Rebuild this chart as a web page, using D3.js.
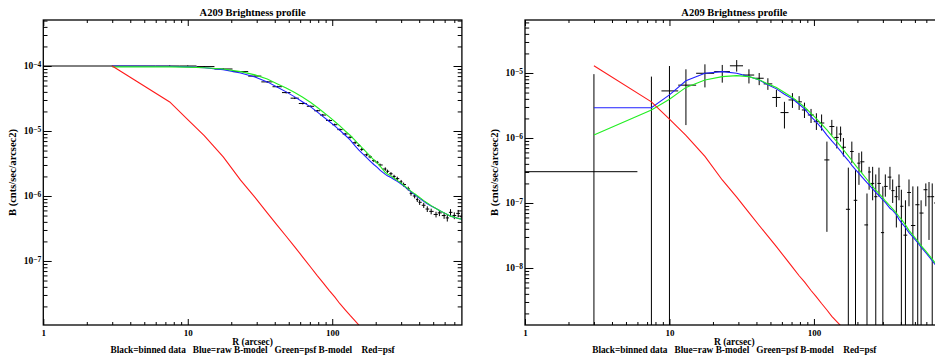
<!DOCTYPE html>
<html><head><meta charset="utf-8">
<script src="https://cdn.jsdelivr.net/npm/d3@7"></script>
<style>
body{margin:0;background:#fff}
svg text{font-family:"Liberation Serif","DejaVu Serif",serif;font-weight:bold;fill:#000}
</style>
</head><body>
<svg id="chart" width="935" height="356"></svg>
<script>
// ---------------- DATA ----------------
const titleText = "A209 Brightness profile";
const xTitle = "R (arcsec)";
const yTitle = "B (cnts/sec/arcsec2)";
const legendText = "Black=binned data   Blue=raw B-model   Green=psf B-model    Red=psf";
const xTickLabels = [1, 10, 100];

// bin centres and bin edges (arcsec)
const binR = [3, 7.5, 10, 13, 17.6, 23.2, 29.2, 35.5, 41.8, 48, 55, 62.5, 71, 79, 86, 95.5, 104, 113, 123, 133,
  144, 153, 160, 173, 183, 194, 205, 214, 233, 241, 255, 268, 282, 300, 312, 336, 351, 372, 388, 403,
  430, 455, 484, 523, 552, 595, 626, 659, 700, 745, 790];
const binEdges = [0, 6, 8.8, 11.5, 15.3, 20.4, 26.2, 32.3, 38.6, 44.9, 51.5, 58.7, 66.7, 75, 82.5, 90.7, 99.7, 108.5, 118, 128,
  138.5, 148.5, 156.5, 166.5, 178, 188.5, 199.5, 209.5, 223.5, 237, 248, 261.5, 275, 291, 306, 324, 343.5, 361.5, 380, 395.5,
  416.5, 442.5, 469.5, 503.5, 537.5, 573.5, 610.5, 642.5, 679.5, 722.5, 767.5, 812.5];

// left panel
const leftData = [1.0e-4, 1.0e-4, 1.0e-4, 9.8e-5, 9.0e-5, 8.2e-5, 7.0e-5, 5.7e-5, 4.8e-5, 3.9e-5, 3.2e-5, 2.65e-5, 2.4e-5, 2.05e-5, 1.76e-5, 1.45e-5, 1.25e-5, 1.05e-5, 9.0e-6, 8.0e-6,
  6.6e-6, 6.0e-6, 5.2e-6, 4.3e-6, 4.0e-6, 3.5e-6, 3.3e-6, 3.0e-6, 2.6e-6, 2.4e-6, 2.2e-6, 2.0e-6, 1.85e-6, 1.65e-6, 1.5e-6, 1.3e-6, 1.1e-6, 1.0e-6, 8.8e-7, 8.0e-7,
  7.2e-7, 6.3e-7, 5.8e-7, 5.2e-7, 5.5e-7, 5.0e-7, 4.6e-7, 5.6e-7, 5.0e-7, 5.4e-7, 4.8e-7];
const leftErrFrac = [0.01, 0.02, 0.02, 0.02, 0.02, 0.02, 0.02, 0.03, 0.03, 0.03, 0.03, 0.03, 0.03, 0.03, 0.04, 0.04, 0.04, 0.04, 0.04, 0.04,
  0.05, 0.05, 0.05, 0.05, 0.05, 0.05, 0.05, 0.05, 0.06, 0.06, 0.06, 0.06, 0.07, 0.07, 0.07, 0.07, 0.08, 0.08, 0.08, 0.09,
  0.09, 0.10, 0.10, 0.10, 0.11, 0.11, 0.12, 0.12, 0.12, 0.13, 0.13];
const leftRawModel = [1.0e-4, 9.9e-5, 9.7e-5, 9.4e-5, 8.8e-5, 7.8e-5, 6.8e-5, 5.7e-5, 4.7e-5, 4.0e-5, 3.35e-5, 2.8e-5, 2.35e-5, 1.95e-5, 1.68e-5, 1.4e-5, 1.2e-5, 1.02e-5, 8.6e-6, 7.3e-6,
  5.9e-6, 5.1e-6, 4.6e-6, 3.9e-6, 3.45e-6, 3.05e-6, 2.75e-6, 2.5e-6, 2.15e-6, 2.05e-6, 1.92e-6, 1.8e-6, 1.68e-6, 1.53e-6, 1.43e-6, 1.26e-6, 1.16e-6, 1.05e-6, 9.8e-7, 9.2e-7,
  8.3e-7, 7.6e-7, 7.0e-7, 6.4e-7, 6.0e-7, 5.5e-7, 5.2e-7, 4.9e-7, 4.7e-7, 4.5e-7, 4.4e-7];
const leftPsfModel = [9.7e-5, 9.7e-5, 9.6e-5, 9.4e-5, 9.0e-5, 8.2e-5, 7.3e-5, 6.3e-5, 5.3e-5, 4.6e-5, 3.9e-5, 3.3e-5, 2.75e-5, 2.3e-5, 1.98e-5, 1.65e-5, 1.4e-5, 1.2e-5, 1.0e-5, 8.6e-6,
  7.2e-6, 6.2e-6, 5.6e-6, 4.7e-6, 4.1e-6, 3.6e-6, 3.2e-6, 2.9e-6, 2.3e-6, 2.18e-6, 2.02e-6, 1.88e-6, 1.74e-6, 1.58e-6, 1.47e-6, 1.29e-6, 1.19e-6, 1.08e-6, 1.01e-6, 9.5e-7,
  8.5e-7, 7.8e-7, 7.1e-7, 6.4e-7, 6.0e-7, 5.5e-7, 5.2e-7, 4.9e-7, 4.7e-7, 4.5e-7, 4.4e-7];
const leftPsf = [1.0e-4, 2.8e-5, 1.5e-5, 8.5e-6, 4.0e-6, 1.75e-6, 9.5e-7, 5.5e-7, 3.5e-7, 2.4e-7, 1.65e-7, 1.15e-7, 8.0e-8, 5.9e-8, 4.7e-8, 3.5e-8, 2.8e-8, 2.2e-8, 1.77e-8, 1.45e-8,
  1.2e-8, 1.03e-8, 9.3e-9, 7.6e-9];

// right panel
const rightData = [3.03e-7, 8e-10, 5.3e-6, 6.5e-6, 9.9e-6, 1.05e-5, 1.29e-5, 9.3e-6, 8.3e-6, 6.8e-6, 4.2e-6, 2.46e-6, 3.85e-6, 3.6e-6, 2.7e-6, 2.26e-6, 1.78e-6, 1.7e-6, 4.6e-7, 1.5e-6,
  1.02e-6, 1.15e-6, 7.2e-7, 8.0e-8, 6.2e-7, 1.1e-7, 4.1e-7, 4.3e-7, 4.6e-8, 3.0e-7, 2.0e-7, 1.25e-7, 2.0e-7, 3.5e-8, 1.8e-7, 2.5e-7, 1.55e-7, 1.25e-7, 1.8e-7, 8.9e-8,
  3.2e-8, 1.45e-7, 4.5e-8, 9.4e-8, 7.0e-8, 1.6e-7, 1.25e-7, 1.25e-7, 1.0e-7, 6e-8, 9e-8];
const rightHi = [9.6e-6, 8.8e-6, 1.28e-5, 1.14e-5, 1.36e-5, 1.33e-5, 1.58e-5, 1.14e-5, 1.0e-5, 8.3e-6, 5.5e-6, 3.6e-6, 4.9e-6, 4.4e-6, 3.5e-6, 2.8e-6, 2.4e-6, 2.3e-6, 8.8e-7, 1.9e-6,
  1.5e-6, 1.5e-6, 1.0e-6, 3.5e-7, 8.8e-7, 3.2e-7, 5.9e-7, 6.2e-7, 1.4e-7, 3.6e-7, 3.6e-7, 2.75e-7, 3.5e-7, 1.8e-7, 2.75e-7, 3.6e-7, 2.3e-7, 1.8e-7, 2.75e-7, 1.6e-7,
  1.1e-7, 2.3e-7, 1.8e-7, 1.8e-7, 1.1e-7, 2.0e-7, 2.1e-7, 2.0e-7, 1.9e-7, 1.5e-7, 1.8e-7];
const rightLo = [0, 0, 0, 1.58e-6, 6.0e-6, 7.1e-6, 1.05e-5, 6.9e-6, 6.5e-6, 5.5e-6, 3.0e-6, 1.4e-6, 2.9e-6, 2.7e-6, 2.03e-6, 1.7e-6, 1.33e-6, 1.3e-6, 3.6e-8, 1.1e-6,
  6.9e-7, 8.8e-7, 5.2e-7, 0, 4.1e-7, 0, 1.9e-7, 2.9e-7, 0, 1.6e-7, 1.1e-7, 0, 1.25e-7, 0, 1.25e-7, 1.6e-7, 1.0e-7, 4.2e-8, 1.1e-7, 0,
  0, 8.9e-8, 0, 0, 0, 8.9e-8, 2.7e-8, 0, 0, 0, 1e-8];
const rightRawModel = [2.92e-6, 2.92e-6, 4.6e-6, 7.6e-6, 9.9e-6, 1.05e-5, 9.9e-6, 8.8e-6, 7.8e-6, 6.6e-6, 5.7e-6, 4.7e-6, 4.0e-6, 3.3e-6, 2.8e-6, 2.13e-6, 1.75e-6, 1.42e-6, 1.11e-6, 9.0e-7,
  7.4e-7, 6.3e-7, 5.5e-7, 4.5e-7, 3.8e-7, 3.25e-7, 2.85e-7, 2.55e-7, 2.05e-7, 1.9e-7, 1.65e-7, 1.46e-7, 1.3e-7, 1.12e-7, 1.02e-7, 8.3e-8, 7.7e-8, 6.6e-8, 5.6e-8, 5.0e-8,
  4.2e-8, 3.5e-8, 3.0e-8, 2.45e-8, 2.1e-8, 1.72e-8, 1.5e-8, 1.3e-8, 1.08e-8, 9.3e-9, 8.2e-9];
const rightPsfModel = [1.11e-6, 2.7e-6, 3.94e-6, 6.0e-6, 7.8e-6, 8.8e-6, 9.1e-6, 8.8e-6, 7.9e-6, 6.8e-6, 6.0e-6, 5.0e-6, 4.2e-6, 3.5e-6, 3.0e-6, 2.4e-6, 1.98e-6, 1.64e-6, 1.33e-6, 1.08e-6,
  8.8e-7, 7.5e-7, 6.6e-7, 5.3e-7, 4.5e-7, 3.8e-7, 3.25e-7, 2.9e-7, 2.3e-7, 2.1e-7, 1.8e-7, 1.58e-7, 1.4e-7, 1.2e-7, 1.08e-7, 9.0e-8, 8.1e-8, 7.0e-8, 6.2e-8, 5.6e-8,
  4.6e-8, 3.8e-8, 3.2e-8, 2.6e-8, 2.2e-8, 1.82e-8, 1.58e-8, 1.37e-8, 1.15e-8, 9.8e-9, 8.6e-9];
const rightPsf = [1.29e-5, 3.6e-6, 1.95e-6, 1.1e-6, 5.2e-7, 2.26e-7, 1.23e-7, 7.1e-8, 4.5e-8, 3.1e-8, 2.13e-8, 1.48e-8, 1.03e-8, 7.6e-9, 6.1e-9, 4.5e-9, 3.6e-9, 2.84e-9, 2.26e-9, 1.8e-9,
  1.5e-9, 1.3e-9, 1.18e-9, 9.6e-10];

// ---------------- DRAWING ----------------
const svg = d3.select("#chart");
const defs = svg.append("defs");
const plotTop = 20, plotBottom = 325;
const xDomain = [1, 790];

function drawPanel(cfg, idx) {
  const x = d3.scaleLog().domain(xDomain).range([cfg.x0, cfg.x1]);
  const y = d3.scaleLog().domain(cfg.yDomain).range([plotBottom, plotTop]);
  const yFloor = cfg.yDomain[0] * 0.05;
  const xFloor = xDomain[0] * 0.5;
  const cid = "clip" + idx;
  defs.append("clipPath").attr("id", cid).append("rect")
    .attr("x", cfg.x0).attr("y", plotTop).attr("width", cfg.x1 - cfg.x0).attr("height", plotBottom - plotTop);
  const g = svg.append("g");
  const plot = g.append("g").attr("clip-path", `url(#${cid})`);

  // binned data with error bars
  const pts = binR.map((r, i) => ({
    r, lo: binEdges[i], hi: binEdges[i + 1], b: cfg.data[i],
    blo: cfg.lo[i], bhi: cfg.hi[i]
  }));
  const eg = plot.append("g").attr("stroke", "#000").attr("stroke-width", 1).attr("fill", "none");
  eg.selectAll("line.h").data(pts).join("line").attr("class", "h")
    .attr("x1", d => x(Math.max(d.lo, xFloor))).attr("x2", d => x(d.hi))
    .attr("y1", d => y(Math.max(d.b, yFloor))).attr("y2", d => y(Math.max(d.b, yFloor)));
  eg.selectAll("line.v").data(pts).join("line").attr("class", "v")
    .attr("x1", d => x(d.r)).attr("x2", d => x(d.r))
    .attr("y1", d => y(Math.max(d.blo, yFloor))).attr("y2", d => y(Math.max(d.bhi, yFloor)));

  const line = d3.line().x(d => x(d[0])).y(d => y(d[1]));
  const series = [
    [cfg.raw, "#2020ff"],
    [cfg.psfModel, "#22ee22"],
    [cfg.psf, "#ff1a1a"]
  ];
  series.forEach(([vals, col]) => {
    plot.append("path").datum(vals.map((v, i) => [binR[i], v]))
      .attr("d", line).attr("fill", "none").attr("stroke", col).attr("stroke-width", 1.1);
  });

  // axes (IDL style: inward ticks on all four sides)
  const minorX = [];
  for (let k = 0; k < 3; k++) for (let m = 2; m <= 9; m++) { const v = m * Math.pow(10, k); if (v < xDomain[1]) minorX.push(v); }
  const majY = [], minorY = [];
  const e0 = Math.floor(Math.log10(cfg.yDomain[0])), e1 = Math.ceil(Math.log10(cfg.yDomain[1]));
  for (let e = e0; e <= e1; e++) {
    const p = Math.pow(10, e);
    if (p >= cfg.yDomain[0] && p <= cfg.yDomain[1]) majY.push(p);
    for (let m = 2; m <= 9; m++) { const v = m * p; if (v >= cfg.yDomain[0] && v <= cfg.yDomain[1]) minorY.push(v); }
  }
  const ax = g.append("g").attr("class", "axes");
  const tx = 6, ty = 8.4;
  function styleAxis(sel) {
    sel.select(".domain").remove();
    sel.selectAll(".tick line").attr("stroke", "#000").attr("stroke-width", 1);
  }
  // bottom
  ax.append("g").attr("transform", `translate(0,${plotBottom})`)
    .call(d3.axisBottom(x).tickValues(xTickLabels).tickSizeInner(-tx).tickSizeOuter(0).tickPadding(5).tickFormat(d3.format("d")))
    .call(styleAxis)
    .call(s => s.selectAll(".tick text").attr("font-size", "9px").attr("font-family", "Liberation Serif").attr("font-weight", "bold").attr("dy", "0.71em"));
  ax.append("g").attr("transform", `translate(0,${plotBottom})`)
    .call(d3.axisBottom(x).tickValues(minorX).tickSizeInner(-tx / 2).tickSizeOuter(0).tickFormat(""))
    .call(styleAxis);
  // top
  ax.append("g").attr("transform", `translate(0,${plotTop})`)
    .call(d3.axisTop(x).tickValues(xTickLabels).tickSizeInner(-tx).tickSizeOuter(0).tickFormat(""))
    .call(styleAxis);
  ax.append("g").attr("transform", `translate(0,${plotTop})`)
    .call(d3.axisTop(x).tickValues(minorX).tickSizeInner(-tx / 2).tickSizeOuter(0).tickFormat(""))
    .call(styleAxis);
  // left
  ax.append("g").attr("transform", `translate(${cfg.x0},0)`)
    .call(d3.axisLeft(y).tickValues(majY).tickSizeInner(-ty).tickSizeOuter(0).tickPadding(2).tickFormat(""))
    .call(styleAxis)
    .call(s => s.selectAll(".tick text").each(function (d) {
      const t = d3.select(this).attr("font-size", "9.5px").attr("dy", "0.3em");
      t.append("tspan").text("10");
      t.append("tspan").attr("dy", "-0.35em").attr("font-size", "7.5px").text("\u2212" + Math.round(-Math.log10(d)));
    }));
  ax.append("g").attr("transform", `translate(${cfg.x0},0)`)
    .call(d3.axisLeft(y).tickValues(minorY).tickSizeInner(-ty / 2).tickSizeOuter(0).tickFormat(""))
    .call(styleAxis);
  // right
  ax.append("g").attr("transform", `translate(${cfg.x1},0)`)
    .call(d3.axisRight(y).tickValues(majY).tickSizeInner(-ty).tickSizeOuter(0).tickFormat(""))
    .call(styleAxis);
  ax.append("g").attr("transform", `translate(${cfg.x1},0)`)
    .call(d3.axisRight(y).tickValues(minorY).tickSizeInner(-ty / 2).tickSizeOuter(0).tickFormat(""))
    .call(styleAxis);
  // frame
  ax.append("rect").attr("x", cfg.x0).attr("y", plotTop).attr("width", cfg.x1 - cfg.x0).attr("height", plotBottom - plotTop)
    .attr("fill", "none").attr("stroke", "#000").attr("stroke-width", 1.3);

  const cx = (cfg.x0 + cfg.x1) / 2;
  g.append("text").attr("x", cx).attr("y", 16).attr("text-anchor", "middle").attr("font-size", "10.5px").text(titleText);
  g.append("text").attr("x", cx).attr("y", 344.5).attr("text-anchor", "middle").attr("font-size", "9.5px").text(xTitle);
  g.append("text").attr("x", cx).attr("y", 353).attr("text-anchor", "middle").attr("font-size", "9.3px")
    .attr("xml:space", "preserve").style("white-space", "pre").text(legendText);
  g.append("text").attr("transform", `translate(${cfg.yTitleX},${(plotTop + plotBottom) / 2}) rotate(-90)`)
    .attr("text-anchor", "middle").attr("font-size", "10.5px").text(yTitle);
}

drawPanel({
  x0: 43.3, x1: 461.9, yDomain: [1.035e-8, 5.105e-4], yTitleX: 16,
  data: leftData,
  lo: leftData.map((v, i) => v * (1 - leftErrFrac[i])),
  hi: leftData.map((v, i) => v * (1 + leftErrFrac[i])),
  raw: leftRawModel, psfModel: leftPsfModel, psf: leftPsf
}, 0);

drawPanel({
  x0: 525, x1: 943.6, yDomain: [1.327e-9, 6.536e-5], yTitleX: 498,
  data: rightData, lo: rightLo, hi: rightHi,
  raw: rightRawModel, psfModel: rightPsfModel, psf: rightPsf
}, 1);
</script>
</body></html>
